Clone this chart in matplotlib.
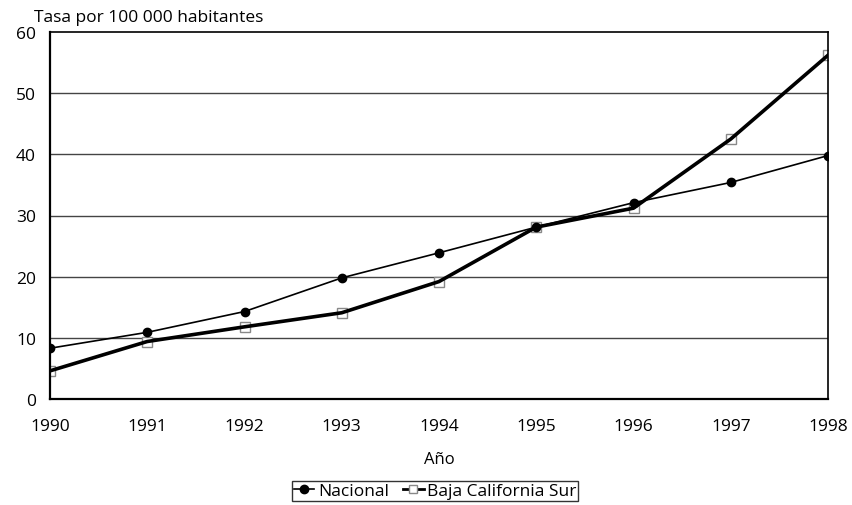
import matplotlib
matplotlib.use("Agg")
import matplotlib.pyplot as plt
from matplotlib.lines import Line2D

plt.rcParams['font.family'] = ['Open Sans', 'DejaVu Sans']

years = [1990, 1991, 1992, 1993, 1994, 1995, 1996, 1997, 1998]
nacional = [8.3, 10.9, 14.3, 19.8, 23.9, 28.1, 32.1, 35.4, 39.8]
bcs = [4.6, 9.4, 11.8, 14.1, 19.2, 28.1, 31.2, 42.5, 56.2]
yticks = [0, 10, 20, 30, 40, 50, 60]

fig = plt.figure(figsize=(8.52, 5.06), dpi=100)
ax = fig.add_axes([50/852, 1 - 400/506, 778/852, 367/506])

for y in yticks[1:-1]:
    ax.axhline(y, color='#444444', lw=1.0, zorder=1)

ax.plot(years, bcs, linestyle='none', marker='s', markersize=7,
        markerfacecolor='white', markeredgecolor='#888888', markeredgewidth=1.0, zorder=2)
ax.plot(years, bcs, color='black', lw=2.6, zorder=3)
ax.plot(years, nacional, color='black', lw=1.2, marker='o', markersize=6, zorder=4)

ax.set_xlim(1990, 1998)
ax.set_ylim(0, 60)
ax.set_xticks(years)
ax.set_xticklabels([str(y) for y in years])
ax.set_yticks(yticks)
ax.tick_params(axis='both', length=0, labelsize=12.5)
ax.tick_params(axis='x', pad=14)
ax.tick_params(axis='y', pad=10)
for s in ax.spines.values():
    s.set_color('black')
    s.set_linewidth(1.2)
ax.spines['left'].set_linewidth(1.6)
ax.spines['bottom'].set_linewidth(1.6)

fig.text(34/852, 1 - 18/506, 'Tasa por 100 000 habitantes', fontsize=12.5, va='center', ha='left')
ax.set_xlabel('Año', fontsize=12, labelpad=12)

h1 = Line2D([], [], color='black', lw=1.2, marker='o', markersize=6)
h2 = Line2D([], [], color='black', lw=2.0, marker='s', markersize=6,
            markerfacecolor='white', markeredgecolor='#888888')
leg = fig.legend([h1, h2], ['Nacional', 'Baja California Sur'], loc='center',
                 bbox_to_anchor=(435/852, 1 - 492/506), ncol=2, frameon=True,
                 fancybox=False, edgecolor='black', fontsize=12.5,
                 handlelength=1.2, handletextpad=0.2, columnspacing=0.8,
                 borderpad=0.1, borderaxespad=0)
leg.get_frame().set_linewidth(1.0)

fig.savefig('out.png', dpi=100)
